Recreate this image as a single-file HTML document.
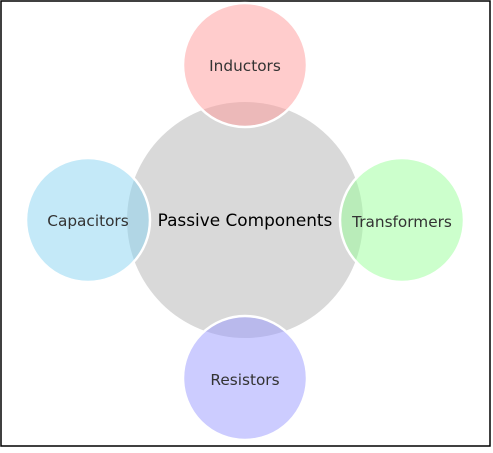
<!DOCTYPE html>
<html><head><style>body{margin:0;background:#fff}</style></head><body>
<svg width="493" height="448" xmlns="http://www.w3.org/2000/svg" font-family="'DejaVu Sans','Liberation Sans',sans-serif">
<rect x="1" y="1" width="489" height="445" fill="#fff" stroke="#000" stroke-width="1.5"/>
<circle cx="245" cy="220" r="118" fill="#d9d9d9"/>
<g stroke="#fff" stroke-width="2.5">
<circle cx="245" cy="65" r="62" fill="#ff9999" fill-opacity="0.5"/>
<circle cx="88" cy="220" r="62" fill="#8ad3f2" fill-opacity="0.5"/>
<circle cx="402" cy="220" r="62" fill="#99ff99" fill-opacity="0.5"/>
<circle cx="245" cy="378" r="62" fill="#9999ff" fill-opacity="0.5"/>
</g>
<g text-anchor="middle" fill="#333" font-size="15.3">
<text x="245" y="71">Inductors</text>
<text x="88" y="226">Capacitors</text>
<text x="402" y="227">Transformers</text>
<text x="245" y="385">Resistors</text>
</g>
<text x="245" y="226" text-anchor="middle" font-size="16.9" fill="#000">Passive Components</text>
</svg>
</body></html>
